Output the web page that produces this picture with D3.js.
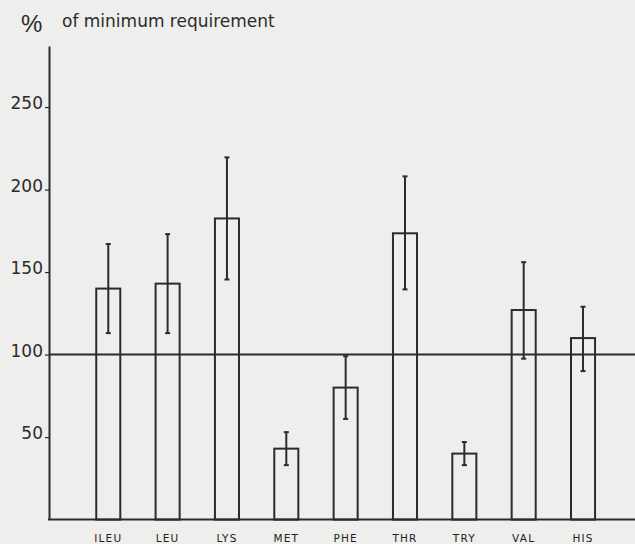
<!DOCTYPE html>
<html>
<head>
<meta charset="utf-8">
<script src="https://cdn.jsdelivr.net/npm/d3@7"></script>
<style>
  html, body { margin: 0; padding: 0; background: #eeeeec; }
  svg { display: block; }
</style>
</head>
<body>
<svg id="chart" width="635" height="544"></svg>
<script>
// Essential amino acid intake, % of minimum requirement (mean with range)
const aminoAcids = ["ILEU", "LEU", "LYS", "MET", "PHE", "THR", "TRY", "VAL", "HIS"];
const meanPct    = [140, 143, 182.5, 43, 80, 173.5, 40, 127, 110];
const lowPct     = [113, 113, 145.5, 33, 61, 139.5, 33, 97.5, 90];
const highPct    = [167, 173, 219.5, 53, 99, 208, 47, 156, 129];
const yTicks     = [50, 100, 150, 200, 250];
const referenceLevel = 100;
const axisTopValue = 287;

const ink = "#2b2b2b";
const W = 635, H = 544;
const svg = d3.select("#chart");

svg.append("rect").attr("width", W).attr("height", H).attr("fill", "#eeeeec");

const axisX = 49;
const y = d3.scaleLinear().domain([0, axisTopValue]).range([519.6, 46]);
const x = d3.scaleBand().domain(aminoAcids).range([78.6, 612.7])
  .paddingInner(0.595).paddingOuter(0.2975);

const rows = aminoAcids.map((name, i) => ({
  name, mean: meanPct[i], low: lowPct[i], high: highPct[i]
}));

// Y axis
const yAxis = d3.axisLeft(y).tickValues(yTicks).tickSize(4).tickSizeOuter(0).tickPadding(2);
const gy = svg.append("g").attr("transform", `translate(${axisX},0)`).call(yAxis);
gy.select(".domain").attr("stroke", ink).attr("stroke-width", 2);
gy.selectAll(".tick line").attr("stroke", ink).attr("stroke-width", 1.2);
gy.selectAll(".tick text")
  .attr("fill", ink)
  .attr("font-family", "'DejaVu Sans', sans-serif")
  .attr("font-size", 17)
  .attr("dy", "0.1em")
  .attr("dominant-baseline", "alphabetic");

// Baseline and 100 % reference line across the full width
svg.append("line")
  .attr("x1", axisX - 1).attr("x2", W)
  .attr("y1", y(0)).attr("y2", y(0))
  .attr("stroke", ink).attr("stroke-width", 2);
svg.append("line")
  .attr("x1", axisX).attr("x2", W)
  .attr("y1", y(referenceLevel)).attr("y2", y(referenceLevel))
  .attr("stroke", ink).attr("stroke-width", 2);

// Bars (open rectangles)
svg.append("g").selectAll("rect").data(rows).join("rect")
  .attr("x", d => x(d.name))
  .attr("y", d => y(d.mean))
  .attr("width", x.bandwidth())
  .attr("height", d => y(0) - y(d.mean))
  .attr("fill", "none")
  .attr("stroke", ink)
  .attr("stroke-width", 2);

// Range bars
const capHalf = 2.5;
const eb = svg.append("g").selectAll("g").data(rows).join("g")
  .attr("transform", d => `translate(${x(d.name) + x.bandwidth() / 2},0)`);
eb.append("line")
  .attr("y1", d => y(d.low)).attr("y2", d => y(d.high))
  .attr("stroke", ink).attr("stroke-width", 2);
eb.append("line")
  .attr("x1", -capHalf).attr("x2", capHalf)
  .attr("y1", d => y(d.high)).attr("y2", d => y(d.high))
  .attr("stroke", ink).attr("stroke-width", 2);
eb.append("line")
  .attr("x1", -capHalf).attr("x2", capHalf)
  .attr("y1", d => y(d.low)).attr("y2", d => y(d.low))
  .attr("stroke", ink).attr("stroke-width", 2);

// Category labels
svg.append("g").selectAll("text").data(rows).join("text")
  .attr("x", d => x(d.name) + x.bandwidth() / 2)
  .attr("y", 542)
  .attr("text-anchor", "middle")
  .attr("font-family", "'DejaVu Sans', sans-serif")
  .attr("font-size", 10.5)
  .attr("letter-spacing", "1.2px")
  .attr("fill", "#222")
  .text(d => d.name);

// Axis title
svg.append("text")
  .attr("x", 21).attr("y", 32)
  .attr("font-family", "'Liberation Sans', sans-serif")
  .attr("font-size", 24)
  .attr("fill", ink)
  .text("%");
svg.append("text")
  .attr("x", 62).attr("y", 27)
  .attr("font-family", "'DejaVu Sans', sans-serif")
  .attr("font-size", 17)
  .attr("fill", ink)
  .text("of minimum requirement");
</script>
</body>
</html>
